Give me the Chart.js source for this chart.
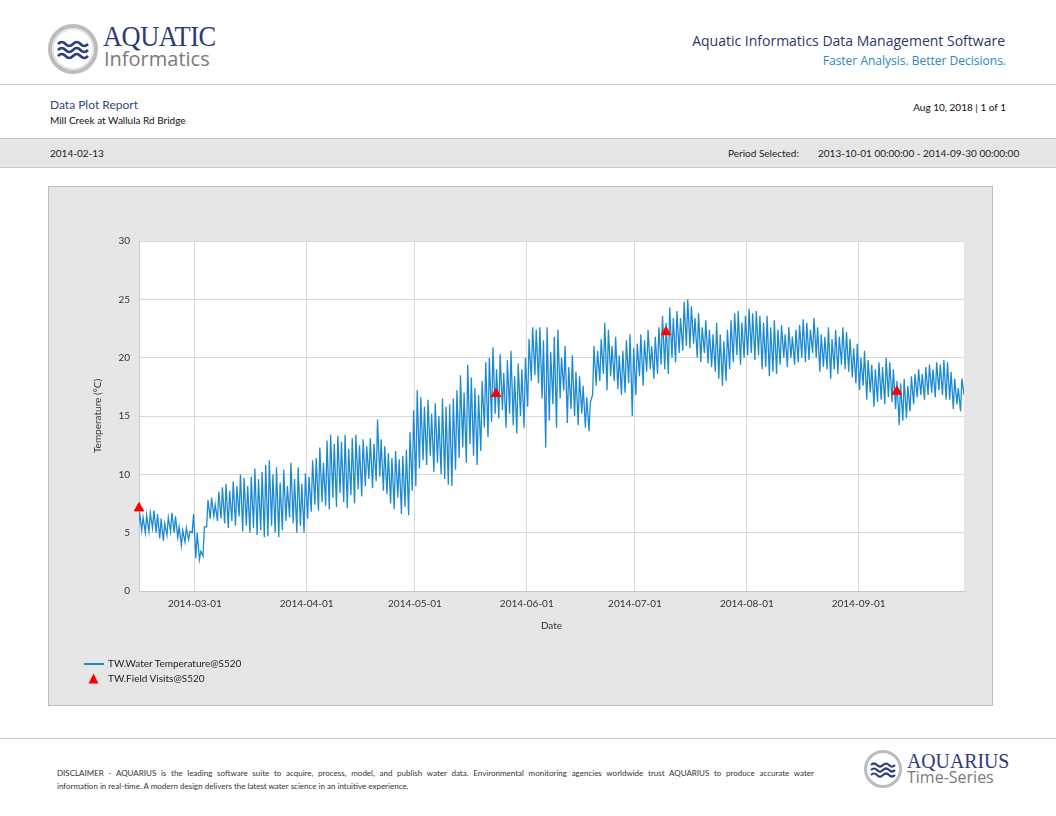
<!DOCTYPE html>
<html>
<head>
<meta charset="utf-8">
<script src="https://cdn.jsdelivr.net/npm/chart.js@4.4.1/dist/chart.umd.min.js"></script>
<style>
  body { margin: 0; width: 1056px; height: 816px; position: relative; background: #fff; font-family: Lato, "Open Sans", sans-serif; overflow: hidden; }
  .abs { position: absolute; white-space: nowrap; }
  .rule { position: absolute; left: 0; width: 1056px; height: 1px; background: #c8c8c8; }
  #band { position: absolute; left: 0; top: 138px; width: 1056px; height: 30px; background: #e6e6e6; border-top: 1px solid #c8c8c8; border-bottom: 1px solid #c8c8c8; box-sizing: border-box; }
  #panel { position: absolute; left: 48px; top: 186px; width: 945px; height: 520px; background: #e6e6e6; border: 1px solid #bdbdbd; box-sizing: border-box; }
  #graficoTemp { position: absolute; left: 48px; top: 186px; }
  .disc { position: absolute; left: 57px; font-size: 8px; line-height: 13px; color: #333; white-space: nowrap; }
  #disc1 { top: 767px; width: 757px; text-align: justify; text-align-last: justify; white-space: normal; }
  #disc2 { top: 780px; }
</style>
</head>
<body>
<!-- cabecalho -->
<svg class="abs" style="left:47px;top:23px" width="52" height="52" viewBox="0 0 52 52">
  <circle cx="26" cy="26" r="23" fill="#fff" stroke="#bcbcbc" stroke-width="4"/>
  <circle cx="26" cy="26" r="20" fill="none" stroke="#e2e2e2" stroke-width="1.5"/>
  <path d="M11 21 q3.75 -4 7.5 0 t7.5 0 t7.5 0 t7.5 0" fill="none" stroke="#2c3f80" stroke-width="2.6"/>
  <path d="M11 27 q3.75 -4 7.5 0 t7.5 0 t7.5 0 t7.5 0" fill="none" stroke="#2c3f80" stroke-width="2.6"/>
  <path d="M11 33 q3.75 -4 7.5 0 t7.5 0 t7.5 0 t7.5 0" fill="none" stroke="#2c3f80" stroke-width="2.6"/>
</svg>
<div class="abs" style="left:103px;top:20px;font-family:'Liberation Serif',serif;font-size:29px;color:#2c3a7c;letter-spacing:-0.5px;transform:scaleX(0.91);transform-origin:left">AQUATIC</div>
<div class="abs" style="left:104px;top:45px;font-family:'Open Sans',sans-serif;font-size:20px;color:#7a7a7a">Informatics</div>

<div class="abs" style="right:51px;top:31px;font-family:'Open Sans',sans-serif;font-size:14px;color:#2b3866">Aquatic Informatics Data Management Software</div>
<div class="abs" style="right:50px;top:52px;font-family:'Open Sans',sans-serif;font-size:12px;color:#2c86bf">Faster Analysis. Better Decisions.</div>

<div class="rule" style="top:84px"></div>

<div class="abs" style="left:50px;top:97px;font-size:12px;color:#2e4a7a">Data Plot Report</div>
<div class="abs" style="left:50px;top:114px;font-size:10px;color:#111">Mill Creek at Wallula Rd Bridge</div>
<div class="abs" style="right:50px;top:101px;font-size:10px;color:#111">Aug 10, 2018 | 1 of 1</div>

<div id="band"></div>
<div class="abs" style="left:50px;top:147px;font-size:10px;color:#222">2014-02-13</div>
<div class="abs" style="left:728px;top:147px;font-size:10px;color:#222">Period Selected:</div>
<div class="abs" style="left:818px;top:147px;font-size:10px;color:#222">2013-10-01 00:00:00 - 2014-09-30 00:00:00</div>

<!-- painel do grafico -->
<div id="panel"></div>
<canvas id="graficoTemp" width="945" height="520"></canvas>

<!-- legenda -->
<div class="abs" style="left:84px;top:663px;width:20px;height:1.5px;background:#1c8ad2"></div>
<div class="abs" style="left:108px;top:657px;font-size:10px;color:#222">TW.Water Temperature@S520</div>
<svg class="abs" style="left:88px;top:673px" width="11" height="11"><polygon points="5.5,0.5 10.5,10.5 0.5,10.5" fill="#ff0000"/></svg>
<div class="abs" style="left:108px;top:672px;font-size:10px;color:#222">TW.Field Visits@S520</div>

<div class="rule" style="top:738px"></div>

<div id="disc1" class="disc">DISCLAIMER - AQUARIUS is the leading software suite to acquire, process, model, and publish water data. Environmental monitoring agencies worldwide trust AQUARIUS to produce accurate water</div>
<div id="disc2" class="disc">information in real-time. A modern design delivers the latest water science in an intuitive experience.</div>

<svg class="abs" style="left:863px;top:749px" width="40" height="40" viewBox="0 0 40 40">
  <circle cx="20" cy="20" r="17.5" fill="#fff" stroke="#bcbcbc" stroke-width="3"/>
  <path d="M8 16 q3 -3 6 0 t6 0 t6 0 t6 0" fill="none" stroke="#2c3f80" stroke-width="2.2"/>
  <path d="M8 21 q3 -3 6 0 t6 0 t6 0 t6 0" fill="none" stroke="#2c3f80" stroke-width="2.2"/>
  <path d="M8 26 q3 -3 6 0 t6 0 t6 0 t6 0" fill="none" stroke="#2c3f80" stroke-width="2.2"/>
</svg>
<div class="abs" style="left:907px;top:748px;font-family:'Liberation Serif',serif;font-size:22px;color:#2c3a7c;transform:scaleX(0.9);transform-origin:left">AQUARIUS</div>
<div class="abs" style="left:907px;top:766px;font-family:'Open Sans',sans-serif;font-size:16px;color:#7a7a7a">Time-Series</div>

<script>
// dados: maxima e minima diaria a partir de 2014-02-13
const startDay = '2014-02-13';
const dailyHigh = [
  6.8,6.3,6.5,6.7,6.9,6.6,6.2,5.8,6.3,6.7,
  6.4,5.5,5.2,5.4,5.1,6.6,5.0,3.4,5.5,7.8,
  8.0,7.4,8.5,8.9,9.2,8.6,9.4,9.0,10.0,9.7,
  9.0,9.8,10.5,9.6,10.2,10.8,11.2,10.0,10.6,9.3,
  10.4,9.0,11.0,9.6,10.6,9.2,10.1,9.8,11.2,11.4,
  12.3,11.0,12.9,13.4,12.6,13.3,12.8,13.4,12.2,13.1,
  13.4,12.5,13.0,12.4,13.1,12.6,14.7,13.0,12.4,11.8,
  11.4,12.0,11.3,11.6,12.1,13.6,15.5,17.2,16.6,15.8,
  16.4,15.2,16.1,15.0,16.5,15.8,16.0,16.5,17.2,18.5,
  17.0,19.4,18.3,17.4,16.8,18.0,19.6,20.0,20.9,19.0,
  20.3,18.7,19.8,20.6,18.4,19.5,19.0,20.0,21.6,22.6,
  22.4,22.6,21.5,22.6,20.5,21.8,22.4,20.0,21.0,19.2,
  20.2,18.8,18.4,17.6,16.6,16.2,21.0,20.6,21.6,23.0,
  22.4,21.0,21.8,20.2,20.6,21.5,22.0,20.8,21.2,22.0,
  21.5,22.4,21.0,21.8,22.6,23.6,23.0,24.3,23.4,24.0,
  23.4,24.8,25.0,24.4,23.4,23.8,22.6,23.2,22.4,22.0,
  23.0,22.0,21.4,22.4,23.2,23.8,24.0,23.0,23.6,24.2,
  23.8,24.0,23.6,23.0,23.6,22.6,23.2,22.4,22.8,22.0,
  22.6,21.8,22.4,22.8,23.3,23.0,22.4,23.4,22.6,22.0,
  21.8,22.6,21.6,22.4,21.8,22.6,22.2,21.6,20.8,21.2,
  20.0,20.6,19.8,19.4,19.0,19.6,19.2,20.0,19.6,19.0,
  18.0,17.8,18.2,17.6,18.4,18.6,19.0,18.6,19.2,19.4,
  19.0,19.6,19.4,19.8,19.6,18.8,18.2,17.4,18.2,18.0
];
const dailyLow = [
  5.0,5.2,5.0,5.1,5.4,5.0,4.5,4.3,4.8,5.1,
  5.0,4.6,3.9,4.2,4.4,5.0,2.8,2.7,3.0,5.5,
  6.2,6.4,6.0,6.2,5.8,5.4,6.0,5.6,6.4,5.1,
  5.6,5.0,5.4,4.8,5.2,4.6,4.7,5.6,5.0,4.6,
  5.2,6.0,6.3,5.8,5.0,5.6,5.0,6.2,6.8,7.4,
  6.9,7.6,7.3,7.0,8.0,7.2,8.4,7.6,7.1,8.2,
  7.5,8.7,8.1,9.0,9.6,8.8,9.4,9.8,8.6,8.3,
  7.5,7.0,8.0,6.6,7.2,6.5,8.6,9.0,10.5,11.2,
  10.8,11.6,10.2,11.0,10.0,9.6,9.1,9.0,10.4,11.4,
  12.3,11.0,12.6,11.6,10.8,12.0,14.0,13.2,14.5,15.2,
  14.8,15.5,14.0,15.2,14.2,13.5,15.0,14.0,15.8,18.0,
  18.5,17.8,16.5,12.3,14.6,16.0,14.0,16.5,17.2,14.4,
  15.6,15.0,14.2,15.2,14.0,13.7,16.8,17.6,18.0,18.6,
  17.2,18.4,18.0,17.3,16.8,17.0,17.8,15.0,16.8,18.4,
  17.6,18.8,19.0,18.2,18.6,19.4,19.0,18.6,20.0,19.6,
  20.4,20.6,21.0,20.8,21.2,20.0,19.6,20.4,19.5,19.2,
  18.8,18.2,17.6,18.0,19.0,19.6,20.2,19.4,20.0,20.2,
  20.4,19.8,20.2,19.0,19.2,18.4,18.8,18.6,19.4,20.0,
  19.2,20.0,19.4,19.6,20.0,19.6,19.8,20.4,20.0,18.8,
  19.2,19.0,18.2,19.0,18.6,19.4,19.0,18.8,18.3,17.8,
  17.2,17.6,16.4,17.0,15.8,16.2,16.4,16.0,16.6,16.2,
  15.6,14.2,14.6,14.8,15.4,16.0,16.6,16.8,16.4,16.8,
  17.0,16.6,17.2,16.8,16.4,16.4,15.6,16.0,15.4,16.8
];
// visitas de campo
const visitTimes = ['2014-02-13T12:00:00Z', '2014-05-23T12:00:00Z', '2014-07-09T14:00:00Z', '2014-09-11T14:00:00Z'];
const visitTemps = [7.1, 16.9, 22.2, 17.1];
// ticks do eixo x
const monthTicks = ['2014-03-01', '2014-04-01', '2014-05-01', '2014-06-01', '2014-07-01', '2014-08-01', '2014-09-01'];
const axisStart = '2014-02-13T12:00:00Z';
const axisEnd = '2014-09-30T05:00:00Z';

const DAY = 86400000;
const t0 = Date.parse(startDay);
const tempPoints = [];
dailyLow.forEach((lo, i) => {
  tempPoints.push({ x: t0 + i * DAY + 6 * 3600000, y: lo });   // minima de manha
  tempPoints.push({ x: t0 + i * DAY + 15 * 3600000, y: dailyHigh[i] }); // maxima a tarde
});
const visitPoints = visitTimes.map((t, i) => ({ x: Date.parse(t), y: visitTemps[i] }));

Chart.defaults.font.family = 'Lato, sans-serif';
Chart.defaults.font.size = 10;
Chart.defaults.color = '#333';

// fundo branco so na area do grafico
const fundoBranco = {
  id: 'fundoBranco',
  beforeDraw(chart) {
    const { ctx, chartArea: a } = chart;
    ctx.save();
    ctx.fillStyle = '#ffffff';
    ctx.fillRect(a.left, a.top, a.width, a.height);
    ctx.restore();
  }
};

const ctx = document.getElementById('graficoTemp');
new Chart(ctx, {
  type: 'line',
  data: {
    datasets: [{
      label: 'TW.Water Temperature@S520',
      data: tempPoints,
      borderColor: '#1c8ad2',
      borderWidth: 1.3,
      pointRadius: 0,
      tension: 0,
      order: 1
    }, {
      label: 'TW.Field Visits@S520',
      data: visitPoints,
      showLine: false,
      pointStyle: 'triangle',
      pointRadius: 5.5,
      backgroundColor: '#ff0000',
      borderColor: '#ff0000',
      clip: false,
      order: 0 // triangulos por cima da linha
    }]
  },
  options: {
    responsive: false,
    animation: false,
    layout: { padding: { left: 40, top: 55, right: 29, bottom: 70 } },
    plugins: {
      legend: { display: false },
      tooltip: { enabled: false }
    },
    scales: {
      x: {
        type: 'linear',
        min: Date.parse(axisStart),
        max: Date.parse(axisEnd),
        afterBuildTicks: scale => { scale.ticks = monthTicks.map(d => ({ value: Date.parse(d) })); },
        afterFit: scale => { scale.height = 45; },
        ticks: {
          autoSkip: false,
          maxRotation: 0,
          padding: 7,
          callback: v => new Date(v).toISOString().slice(0, 10)
        },
        grid: { color: '#d9d9d9', drawTicks: false },
        border: { color: '#c8c8c8' },
        title: { display: true, text: 'Date', font: { size: 10 } }
      },
      y: {
        min: 0,
        max: 30,
        afterFit: scale => { scale.width = 51; },
        ticks: { stepSize: 5, padding: 9 },
        grid: { color: '#d9d9d9', drawTicks: false },
        border: { color: '#c8c8c8' },
        title: { display: true, text: 'Temperature (°C)', font: { size: 10 } }
      }
    }
  },
  plugins: [fundoBranco]
});
</script>
</body>
</html>
